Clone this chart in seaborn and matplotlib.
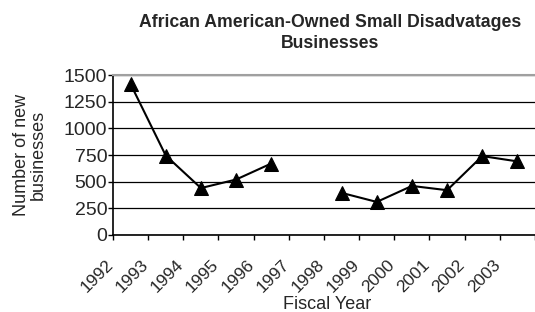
import matplotlib
matplotlib.use("Agg")
import matplotlib.pyplot as plt
from matplotlib.transforms import ScaledTranslation
import numpy as np
import pandas as pd
import seaborn as sns

years = ["1992", "1993", "1994", "1995", "1996", "1997",
         "1998", "1999", "2000", "2001", "2002", "2003"]
new_businesses = [1415, 745, 440, 520, 670, np.nan,
                  395, 310, 460, 420, 740, 690]
y_ticks = [0, 250, 500, 750, 1000, 1250, 1500]

df = pd.DataFrame({"year": years, "value": new_businesses})
df["pos"] = np.arange(len(years))
# split the line where a year is missing
df["segment"] = df["value"].isna().cumsum()
df = df.dropna()

sns.set_style("white")
plt.rcParams["font.family"] = ["Liberation Sans", "DejaVu Sans"]

fig = plt.figure(figsize=(5.35, 3.12), dpi=100)
ax = fig.add_axes([0.2112, 0.2468, 0.7888, 0.5128])

sns.lineplot(data=df, x="pos", y="value", units="segment", estimator=None,
             color="black", linewidth=1.5, marker="^", markersize=10,
             markeredgecolor="black", ax=ax)

ax.set_xlim(-0.5, len(years) - 0.5)
ax.set_ylim(0, 1500)
ax.set_yticks(y_ticks)
ax.set_yticklabels([str(t) for t in y_ticks], fontsize=14)
ax.yaxis.grid(True, color="black", linewidth=0.9)
ax.set_axisbelow(True)

ax.set_xticks(np.arange(len(years)))
ax.set_xticks(np.arange(len(years) + 1) - 0.5, minor=True)
ax.tick_params(axis="x", which="major", length=0, pad=16)
ax.tick_params(axis="x", which="minor", length=3.6, width=1, direction="out",
               color="black", bottom=True)
ax.tick_params(axis="y", length=3.6, width=1, direction="out", color="black",
               left=True, pad=0.5)
ax.set_xticklabels(years, fontsize=12.5, rotation=45, ha="right", va="top",
                   rotation_mode="anchor")
# move the rotated labels left so they end before the category centre
shift = ScaledTranslation(-25 / 100, 0, fig.dpi_scale_trans)
for lbl in ax.get_xticklabels():
    lbl.set_transform(lbl.get_transform() + shift)

for side in ["left", "bottom"]:
    ax.spines[side].set_color("black")
    ax.spines[side].set_linewidth(1.2)
ax.spines["top"].set_color("#a0a0a0")
ax.spines["top"].set_linewidth(1.5)
ax.spines["right"].set_visible(False)

ax.set_xlabel("Fiscal Year", fontsize=13, va="baseline")
ax.xaxis.set_label_coords(0.507, -0.463)
ax.set_ylabel("Number of new\nbusinesses", fontsize=13, va="center",
              linespacing=1.05)
ax.yaxis.set_label_coords(-0.197, 0.5)
fig.text(0.617, 0.894, "African American-Owned Small Disadvatages\nBusinesses",
         ha="center", va="center", fontsize=12.7, fontweight="bold",
         linespacing=1.35)

fig.savefig("out.png", dpi=100)
